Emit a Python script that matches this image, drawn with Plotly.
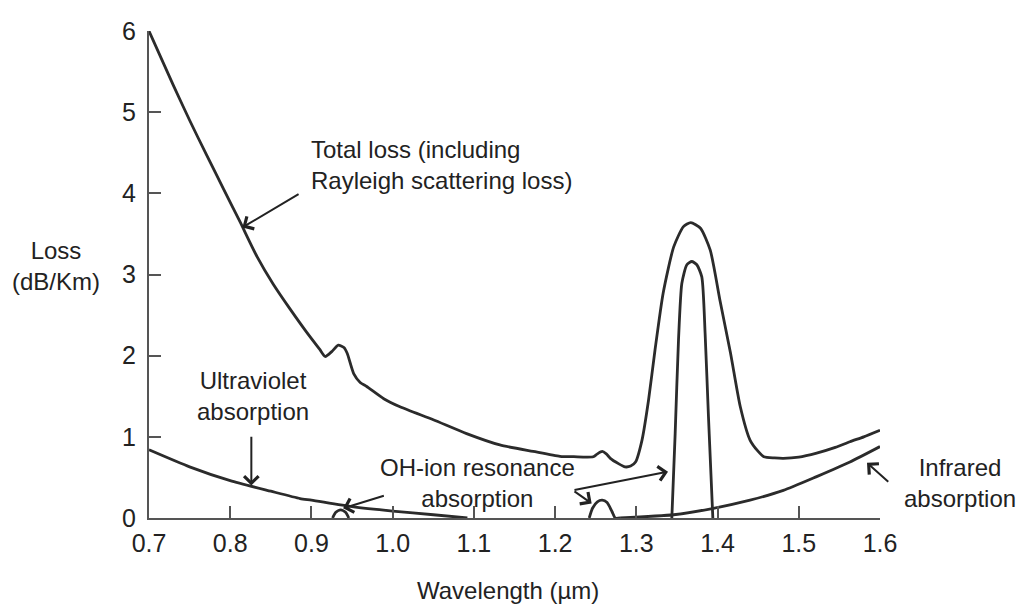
import plotly.graph_objects as go

# ---- data ----
total_x = [0.700, 0.730, 0.750, 0.771, 0.792, 0.812, 0.833, 0.853, 0.874, 0.894, 0.910, 0.917,
           0.925, 0.933, 0.940, 0.944, 0.952, 0.960, 0.968, 0.989, 1.009, 1.050, 1.091, 1.132,
           1.173, 1.206, 1.223, 1.247, 1.252, 1.258, 1.263, 1.268, 1.278, 1.286, 1.293, 1.299,
           1.307, 1.315, 1.323, 1.333, 1.346, 1.358, 1.367, 1.379, 1.391, 1.403, 1.416, 1.428,
           1.440, 1.450, 1.457, 1.470, 1.481, 1.500, 1.522, 1.545, 1.563, 1.580, 1.600]
total_y = [6.00, 5.33, 4.90, 4.47, 4.05, 3.65, 3.22, 2.88, 2.57, 2.29, 2.08, 1.99,
           2.05, 2.13, 2.10, 2.03, 1.78, 1.67, 1.62, 1.47, 1.37, 1.21, 1.04, 0.90,
           0.82, 0.76, 0.755, 0.755, 0.79, 0.82, 0.79, 0.735, 0.67, 0.63, 0.64, 0.69,
           0.96, 1.45, 2.07, 2.77, 3.34, 3.59, 3.64, 3.57, 3.30, 2.68, 2.03, 1.37,
           0.96, 0.82, 0.755, 0.74, 0.735, 0.75, 0.80, 0.87, 0.94, 1.00, 1.08]

uv_x = [0.70, 0.75, 0.80, 0.85, 0.886, 0.90, 0.95, 1.00, 1.05, 1.092]
uv_y = [0.84, 0.63, 0.46, 0.33, 0.24, 0.22, 0.14, 0.085, 0.04, 0.0]

oh1_x = [0.926, 0.930, 0.936, 0.942, 0.946]
oh1_y = [0.0, 0.07, 0.10, 0.07, 0.0]

oh2_x = [1.242, 1.246, 1.252, 1.258, 1.264, 1.270, 1.274, 1.280]
oh2_y = [0.0, 0.12, 0.20, 0.22, 0.19, 0.08, 0.0, 0.0]

oh3_x = [1.3437, 1.3478, 1.3519, 1.3560, 1.3622, 1.3683, 1.3745, 1.3806, 1.3847, 1.3888, 1.3942]
oh3_y = [0.0, 1.04, 2.19, 2.89, 3.12, 3.16, 3.12, 2.97, 2.27, 1.25, 0.0]

ir_x = [1.280, 1.346, 1.395, 1.440, 1.481, 1.522, 1.563, 1.600]
ir_y = [0.0, 0.04, 0.12, 0.22, 0.34, 0.51, 0.69, 0.88]

x_ticks = [0.7, 0.8, 0.9, 1.0, 1.1, 1.2, 1.3, 1.4, 1.5, 1.6]
x_labels = ["0.7", "0.8", "0.9", "1.0", "1.1", "1.2", "1.3", "1.4", "1.5", "1.6"]
y_ticks = [0, 1, 2, 3, 4, 5, 6]

LINE = "#2b2b2b"
AXIS = "#555555"
FONT = "Liberation Sans, Arial, sans-serif"

fig = go.Figure()
for xs, ys in [(total_x, total_y), (uv_x, uv_y), (oh1_x, oh1_y), (oh2_x, oh2_y),
               (oh3_x, oh3_y), (ir_x, ir_y)]:
    fig.add_trace(go.Scatter(x=xs, y=ys, mode="lines",
                             line=dict(color=LINE, width=2.8, shape="spline", smoothing=0.6),
                             showlegend=False, hoverinfo="skip"))

txt = dict(family=FONT, size=24, color="#222222")
ann = []
ann.append(dict(x=0.897, y=4.35, xref="x", yref="y", text="Total loss (including<br>Rayleigh scattering loss)",
                showarrow=False, xanchor="left", yanchor="middle", align="left", font=txt))
ann.append(dict(x=0.828, y=1.50, xref="x", yref="y", text="Ultraviolet<br>absorption",
                showarrow=False, xanchor="center", yanchor="middle", align="center", font=txt))
ann.append(dict(x=1.104, y=0.43, xref="x", yref="y", text="OH-ion resonance<br>absorption",
                showarrow=False, xanchor="center", yanchor="middle", align="center", font=txt))
ann.append(dict(x=1.109, y=0.072, xref="paper", yref="paper", text="Infrared<br>absorption",
                showarrow=False, xanchor="center", yanchor="middle", align="center", font=txt))
ann.append(dict(x=-0.127, y=0.517, xref="paper", yref="paper", text="Loss<br>(dB/Km)",
                showarrow=False, xanchor="center", yanchor="middle", align="center", font=txt))
ann.append(dict(x=0.491, y=-0.148, xref="paper", yref="paper", text="Wavelength (µm)",
                showarrow=False, xanchor="center", yanchor="middle", align="center", font=txt))

arrow = dict(showarrow=True, arrowhead=4, arrowsize=1.4, arrowwidth=2, arrowcolor="#222222",
             text="", xref="x", yref="y", axref="x", ayref="y")
arrows = [
    ((0.815, 3.58), (0.886, 4.00)),
    ((0.826, 0.40), (0.826, 1.02)),
    ((0.939, 0.12), (0.991, 0.28)),
    ((1.339, 0.57), (1.222, 0.34)),
    ((1.245, 0.18), (1.222, 0.34)),
    ((1.584, 0.68), (1.612, 0.43)),
]
for (hx, hy), (tx, ty) in arrows:
    ann.append(dict(x=hx, y=hy, ax=tx, ay=ty, **arrow))

fig.update_layout(
    width=1027, height=608,
    margin=dict(l=149, r=147, t=31, b=90),
    paper_bgcolor="white", plot_bgcolor="white",
    annotations=ann,
    xaxis=dict(range=[0.7, 1.6], tickvals=x_ticks, ticktext=x_labels, showgrid=False, zeroline=False,
               showline=True, linecolor=AXIS, linewidth=2, ticks="inside", ticklen=12, tickwidth=2,
               tickcolor=AXIS, tickfont=dict(family=FONT, size=25, color="#222222"), ticklabelstandoff=2),
    yaxis=dict(range=[0, 6], tickvals=y_ticks, showgrid=False, zeroline=False,
               showline=True, linecolor=AXIS, linewidth=2, ticks="inside", ticklen=12, tickwidth=2,
               tickcolor=AXIS, tickfont=dict(family=FONT, size=25, color="#222222"), ticklabelstandoff=6),
)

fig.write_html("out.html")
